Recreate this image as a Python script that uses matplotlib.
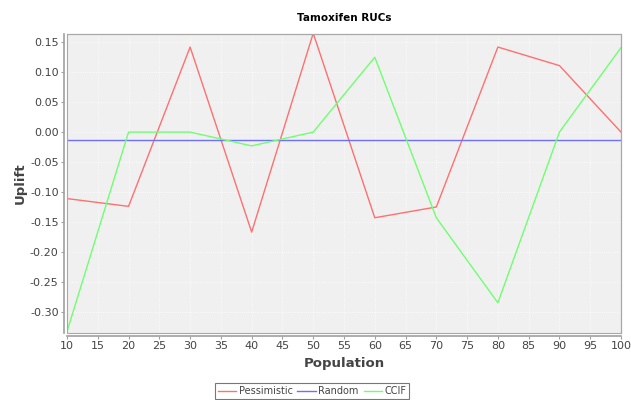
import numpy as np
import matplotlib
matplotlib.use('Agg')
import matplotlib.pyplot as plt
from matplotlib.patches import Rectangle

population = [10, 20, 30, 40, 50, 60, 70, 80, 90, 100]
pessimistic = [-0.111, -0.124, 0.142, -0.167, 0.165, -0.143, -0.125, 0.142, 0.111, 0.0]
random_line = [-0.014] * len(population)
ccif = [-0.333, 0.0, 0.0, -0.023, 0.0, 0.125, -0.143, -0.285, 0.0, 0.141]


def fmt(v, pos):
    if abs(v) < 1e-9:
        v = 0.0
    return f'{v:.2f}'


fig = plt.figure(figsize=(6.31, 4.0), dpi=100)
ax = fig.add_axes([67 / 631, 1 - 333 / 400, (621 - 67) / 631, (333 - 33.5) / 400])
ax.set_facecolor('#f0f0f0')

ax.plot(population, pessimistic, color='#ff7070', lw=1.0, label='Pessimistic')
ax.plot(population, random_line, color='#6f6fff', lw=1.0, label='Random')
ax.plot(population, ccif, color='#70ff70', lw=1.0, label='CCIF')

ax.set_xlim(10, 100)
ax.set_ylim(-0.3354, 0.1646)
ax.set_xticks(np.arange(10, 101, 5))
ax.set_yticks(np.arange(-0.30, 0.151, 0.05))
ax.yaxis.set_major_formatter(plt.FuncFormatter(fmt))
ax.grid(True, color='white', linestyle=':', lw=0.6)
ax.set_axisbelow(True)

for s in ['top', 'right']:
    ax.spines[s].set_color('#a0a0a0')
for s in ['left', 'bottom']:
    ax.spines[s].set_position(('outward', 2))
    ax.spines[s].set_color('#a0a0a0')
    ax.spines[s].set_linewidth(1.2)
ax.add_patch(Rectangle((0, 0), 1, 1, transform=ax.transAxes, fill=False,
                       edgecolor='#a8a8a8', lw=0.8, clip_on=False, zorder=5))
ax.tick_params(colors='#a0a0a0', labelcolor='#444444', labelsize=8, length=2, width=0.8, pad=2)

ax.set_title('Tamoxifen RUCs', fontsize=7.5, fontweight='bold', pad=9)
ax.set_xlabel('Population', fontsize=9.5, fontweight='bold', color='#444444', labelpad=4)
ax.set_ylabel('Uplift', fontsize=9.5, fontweight='bold', color='#444444', labelpad=2)

leg = fig.legend(loc='center', bbox_to_anchor=(312 / 631, 1 - 391 / 400), ncol=3,
                 fontsize=7, frameon=True, fancybox=False, handlelength=1.9,
                 handletextpad=0.25, columnspacing=0.5, borderpad=0.3)
leg.get_frame().set_edgecolor('#555555')
leg.get_frame().set_linewidth(0.8)
for t in leg.get_texts():
    t.set_color('#444444')

fig.savefig('out.png', dpi=100)
